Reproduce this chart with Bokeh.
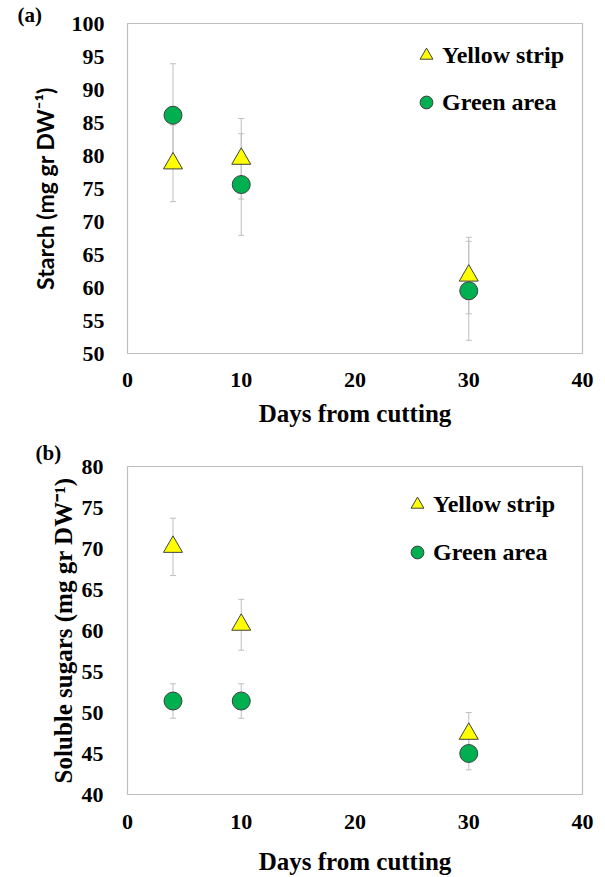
from bokeh.plotting import figure
from bokeh.layouts import column
from bokeh.models import (Range1d, SingleIntervalTicker, Whisker, ColumnDataSource,
                          TeeHead, Legend, LegendItem, Title)
from bokeh.embed import file_html
from bokeh.resources import INLINE

# ---- data ----
days = [4, 10, 30]

starch_yellow = [78.8, 79.5, 61.8]
starch_yellow_err = [5.8, 6.1, 5.8]
starch_green = [86.1, 75.6, 59.5]
starch_green_err = [7.8, 7.7, 7.5]

sugar_yellow = [70.2, 60.7, 47.4]
sugar_yellow_err = [3.5, 3.1, 2.6]
sugar_green = [51.4, 51.4, 45.0]
sugar_green_err = [2.1, 2.1, 2.0]

series_names = ["Yellow strip", "Green area"]
x_label = "Days from cutting"
y_label_a = "Starch (mg gr DW\u207b\u00b9)"
y_label_b = "Soluble sugars (mg gr DW\u207b\u00b9)"

YELLOW = "#FFFF00"
GREEN = "#00B050"
EDGE = "#404040"
ERR = "#BFBFBF"
SERIF = "Liberation Serif"
NAN = float("nan")


def make_panel(tag, yvals_y, err_y, yvals_g, err_g, ylo, yhi, ylab, ylab_font,
               ylab_size, width, height, borders, tick_standoff_y, ylab_standoff,
               x_standoffs, legend_loc, legend_spacing, tag_offset, tag_standoff):
    bl, br, bt, bb = borders
    p = figure(width=width, height=height, output_backend="svg", toolbar_location=None,
               x_range=Range1d(0, 40), y_range=Range1d(ylo, yhi),
               min_border_left=bl, min_border_right=br, min_border_top=bt,
               min_border_bottom=bb)
    p.grid.visible = False
    p.outline_line_color = ERR
    p.outline_line_width = 1.2
    p.background_fill_color = "white"

    p.xaxis.ticker = SingleIntervalTicker(interval=10)
    p.yaxis.ticker = SingleIntervalTicker(interval=5)
    for ax in (p.xaxis, p.yaxis):
        ax.axis_line_color = None
        ax.major_tick_line_color = None
        ax.minor_tick_line_color = None
        ax.major_tick_out = 0
        ax.major_tick_in = 0
        ax.minor_tick_out = 0
        ax.minor_tick_in = 0
        ax.major_label_text_font = SERIF
        ax.major_label_text_font_style = "bold"
        ax.major_label_text_color = "black"
        ax.major_label_text_font_size = "22px"
    p.xaxis.major_label_standoff = x_standoffs[0]
    p.yaxis.major_label_standoff = tick_standoff_y

    p.xaxis.axis_label = x_label
    p.xaxis.axis_label_text_font = SERIF
    p.xaxis.axis_label_text_font_style = "bold"
    p.xaxis.axis_label_text_font_size = "25px"
    p.xaxis.axis_label_text_color = "black"
    p.xaxis.axis_label_standoff = x_standoffs[1]

    p.yaxis.axis_label = ylab
    p.yaxis.axis_label_text_font = ylab_font
    p.yaxis.axis_label_text_font_style = "bold"
    p.yaxis.axis_label_text_font_size = ylab_size
    p.yaxis.axis_label_text_color = "black"
    p.yaxis.axis_label_standoff = ylab_standoff

    src_y = ColumnDataSource(dict(x=days, y=yvals_y,
                                  lo=[v - e for v, e in zip(yvals_y, err_y)],
                                  hi=[v + e for v, e in zip(yvals_y, err_y)]))
    src_g = ColumnDataSource(dict(x=days, y=yvals_g,
                                  lo=[v - e for v, e in zip(yvals_g, err_g)],
                                  hi=[v + e for v, e in zip(yvals_g, err_g)]))
    for src in (src_y, src_g):
        w = Whisker(source=src, base="x", lower="lo", upper="hi",
                    line_color=ERR, line_width=1,
                    upper_head=TeeHead(size=6, line_color=ERR, line_width=1),
                    lower_head=TeeHead(size=6, line_color=ERR, line_width=1),
                    level="underlay")
        p.add_layout(w)

    p.scatter("x", "y", source=src_y, marker="triangle", size=19,
              fill_color=YELLOW, line_color=EDGE, line_width=1)
    p.scatter("x", "y", source=src_g, marker="circle", size=18,
              fill_color=GREEN, line_color=EDGE, line_width=1)

    # legend proxies (NaN = not drawn in plot; legend symbol size follows glyph box)
    ly = p.scatter(x=[NAN], y=[NAN], marker="triangle", size=13,
                   fill_color=YELLOW, line_color=EDGE, line_width=1)
    lg = p.scatter(x=[NAN], y=[NAN], marker="circle", size=13,
                   fill_color=GREEN, line_color=EDGE, line_width=1)
    legend = Legend(items=[LegendItem(label=series_names[0], renderers=[ly]),
                           LegendItem(label=series_names[1], renderers=[lg])],
                    location=legend_loc)
    legend.border_line_color = None
    legend.background_fill_alpha = 0
    legend.padding = 0
    legend.margin = 0
    legend.glyph_width = 32
    legend.glyph_height = 32
    legend.label_height = 32
    legend.spacing = legend_spacing
    legend.label_standoff = -5
    legend.label_text_font = SERIF
    legend.label_text_font_style = "bold"
    legend.label_text_font_size = "24px"
    legend.label_text_color = "black"
    p.add_layout(legend)

    t = Title(text=tag, align="left", offset=tag_offset, standoff=tag_standoff,
              text_font=SERIF, text_font_style="bold", text_font_size="21px",
              text_color="black")
    p.add_layout(t, "above")
    return p


p1 = make_panel("(a)", starch_yellow, starch_yellow_err, starch_green, starch_green_err,
                50, 100, y_label_a, "Lato", "23px", 605, 436, (123, 21, 23, 83),
                23, 10, (19, 10), (283, 235), 15, -110, -6)
p2 = make_panel("(b)", sugar_yellow, sugar_yellow_err, sugar_green, sugar_green_err,
                40, 80, y_label_b, SERIF, "25px", 605, 441, (127, 23, 30, 82),
                24, 2, (20, 16), (274, 226), 16, -92, 4)

layout = column(p1, p2, spacing=0)
open("out.html", "w").write(file_html(layout, INLINE))
